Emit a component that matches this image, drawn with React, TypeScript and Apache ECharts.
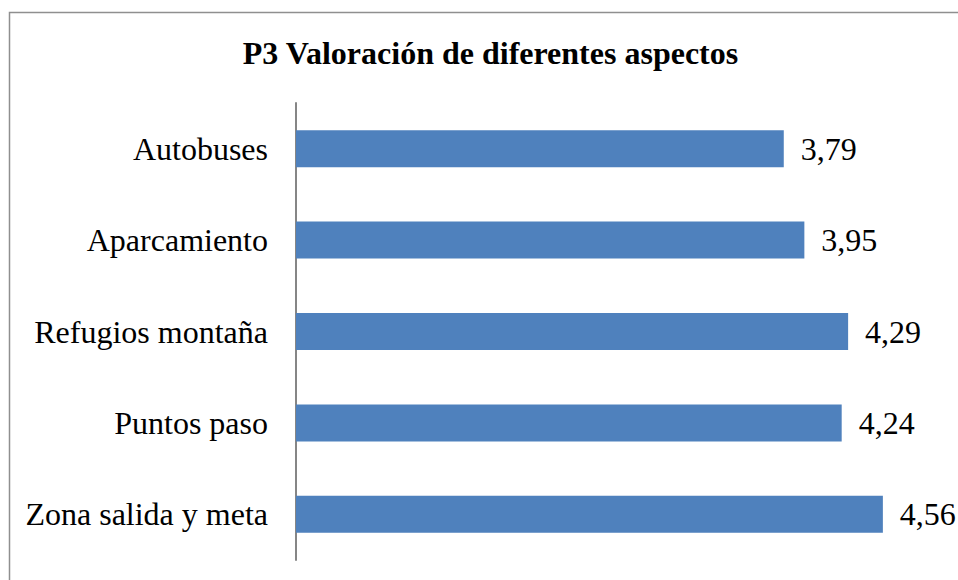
import React, { useEffect, useRef } from "react";
import * as echarts from "echarts";

const titleText = "P3 Valoración de diferentes aspectos";
const categories = [
  "Autobuses",
  "Aparcamiento",
  "Refugios montaña",
  "Puntos paso",
  "Zona salida y meta",
];
const values = [3.79, 3.95, 4.29, 4.24, 4.56];

const FONT = "'Liberation Serif', 'Times New Roman', serif";

export default function App() {
  const ref = useRef<HTMLDivElement>(null);
  useEffect(() => {
    if (!ref.current) return;
    const chart = echarts.init(ref.current, undefined, { renderer: "svg" });
    chart.setOption({
      animation: false,
      backgroundColor: "#ffffff",
      graphic: [
        {
          type: "rect",
          z: -10,
          shape: { x: 9.5, y: 12.5, width: 1000, height: 1000 },
          style: { fill: "none", stroke: "#8f8f8f", lineWidth: 1.5 },
        },
        {
          type: "text",
          x: 490.5,
          y: 53,
          style: {
            text: titleText,
            font: `bold 32px ${FONT}`,
            fill: "#000000",
            align: "center",
            verticalAlign: "middle",
          },
        },
      ],
      grid: { left: 296, top: 103, width: 643.5, height: 457, containLabel: false },
      xAxis: {
        type: "value",
        min: 0,
        max: 5,
        show: false,
        splitLine: { show: false },
      },
      yAxis: {
        type: "category",
        inverse: true,
        data: categories,
        axisLine: { show: true, lineStyle: { color: "#868686", width: 2 } },
        axisTick: { show: false },
        axisLabel: {
          margin: 28,
          color: "#000000",
          fontFamily: FONT,
          fontSize: 32,
        },
      },
      series: [
        {
          type: "bar",
          data: values,
          barWidth: 37,
          itemStyle: { color: "#4F81BD" },
          label: {
            show: true,
            position: "right",
            distance: 17,
            color: "#000000",
            fontFamily: FONT,
            fontSize: 32,
            formatter: (p: any) => Number(p.value).toFixed(2).replace(".", ","),
          },
        },
      ],
    });
    return () => chart.dispose();
  }, []);
  return (
    <div
      ref={ref}
      style={{ position: "absolute", left: 0, top: 0, width: 958, height: 580 }}
    />
  );
}
